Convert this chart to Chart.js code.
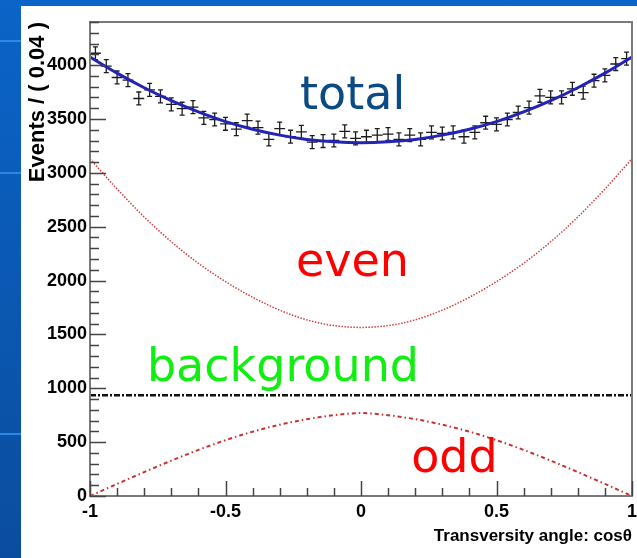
<!DOCTYPE html>
<html>
<head>
<meta charset="utf-8">
<script src="https://cdn.jsdelivr.net/npm/chart.js@4.4.1/dist/chart.umd.min.js"></script>
<style>
  html, body { margin: 0; padding: 0; }
  body { width: 637px; height: 558px; overflow: hidden; position: relative;
         background: linear-gradient(#0b64c8, #0a4d9e); }
  .stripe { position: absolute; left: 0; width: 21px; height: 2px; background: #2f86e6; }
  #panel { position: absolute; left: 21px; top: 6px; width: 616px; height: 552px; background: #fff; }
</style>
</head>
<body>
<div class="stripe" style="top:40px"></div>
<div class="stripe" style="top:172px"></div>
<div class="stripe" style="top:433px"></div>
<div id="panel"><canvas id="fit" width="616" height="552"></canvas></div>
<script>
// bin centres (bin width 0.04) and event counts
const cosBins = [-0.98, -0.94, -0.90, -0.86, -0.82, -0.78, -0.74, -0.70, -0.66, -0.62,
                 -0.58, -0.54, -0.50, -0.46, -0.42, -0.38, -0.34, -0.30, -0.26, -0.22,
                 -0.18, -0.14, -0.10, -0.06, -0.02, 0.02, 0.06, 0.10, 0.14, 0.18,
                 0.22, 0.26, 0.30, 0.34, 0.38, 0.42, 0.46, 0.50, 0.54, 0.58,
                 0.62, 0.66, 0.70, 0.74, 0.78, 0.82, 0.86, 0.90, 0.94, 0.98];
const counts = [4110, 3990, 3885, 3860, 3690, 3770, 3710, 3635, 3595, 3610,
                3510, 3495, 3455, 3405, 3485, 3420, 3310, 3410, 3335, 3380,
                3285, 3295, 3300, 3385, 3320, 3335, 3350, 3360, 3310, 3350,
                3310, 3375, 3365, 3375, 3335, 3375, 3465, 3450, 3495, 3560,
                3605, 3715, 3700, 3700, 3780, 3745, 3855, 3905, 4010, 4060];
const countErr = 60;
const binHalf = 0.02;

// fitted components sampled along cos(theta)
const curveX   = [-1, -0.9, -0.8, -0.7, -0.6, -0.5, -0.4, -0.3, -0.2, -0.1, 0,
                  0.1, 0.2, 0.3, 0.4, 0.5, 0.6, 0.7, 0.8, 0.9, 1];
const totalFit = [4075, 3925, 3790, 3670, 3565, 3475, 3405, 3350, 3310, 3288, 3280,
                  3288, 3310, 3350, 3405, 3475, 3565, 3670, 3790, 3925, 4075];
const evenFit  = [3130, 2850, 2590, 2360, 2160, 1990, 1845, 1725, 1635, 1582, 1565,
                  1582, 1635, 1725, 1845, 1990, 2160, 2360, 2590, 2850, 3130];
const oddFit   = [0, 112, 222, 328, 428, 518, 597, 662, 713, 750, 770,
                  750, 713, 662, 597, 518, 428, 328, 222, 112, 0];
const bkgX     = [-1, 1];
const bkgFit   = [935, 935];

const yTicks = [0, 500, 1000, 1500, 2000, 2500, 3000, 3500, 4000];
const xTicks = [-1, -0.5, 0, 0.5, 1];

const pts = (xs, ys) => xs.map((v, i) => ({x: v, y: ys[i]}));

const rootStyle = {
  id: 'rootStyle',
  beforeDatasetsDraw(chart) {
    const {ctx, scales: {x, y}} = chart;
    ctx.save();
    ctx.strokeStyle = '#1c1c1c';
    ctx.lineWidth = 1.3;
    cosBins.forEach((c, i) => {
      const px = x.getPixelForValue(c), py = y.getPixelForValue(counts[i]);
      const x0 = x.getPixelForValue(c - binHalf), x1 = x.getPixelForValue(c + binHalf);
      const y0 = y.getPixelForValue(counts[i] - countErr), y1 = y.getPixelForValue(counts[i] + countErr);
      ctx.beginPath();
      ctx.moveTo(x0, py); ctx.lineTo(x1, py);
      ctx.moveTo(px, y0); ctx.lineTo(px, y1);
      ctx.moveTo(px - 2.5, y0); ctx.lineTo(px + 2.5, y0);
      ctx.moveTo(px - 2.5, y1); ctx.lineTo(px + 2.5, y1);
      ctx.stroke();
    });
    ctx.restore();
  },
  afterDatasetsDraw(chart) {
    const {ctx, chartArea: a, scales: {x, y}} = chart;
    ctx.save();
    // frame
    ctx.strokeStyle = '#7a7a7a';
    ctx.lineWidth = 2;
    ctx.strokeRect(a.left, a.top, a.right - a.left, a.bottom - a.top);
    // inward ticks
    ctx.strokeStyle = '#444';
    ctx.lineWidth = 1.5;
    ctx.beginPath();
    for (let v = 0; v <= 4400; v += 100) {
      const py = Math.round(y.getPixelForValue(v)) + 0.5;
      ctx.moveTo(a.left, py);
      ctx.lineTo(a.left + (v % 500 === 0 ? 16 : 9), py);
    }
    for (let k = -10; k <= 10; k++) {
      const px = Math.round(x.getPixelForValue(k / 10)) + 0.5;
      ctx.moveTo(px, a.bottom);
      ctx.lineTo(px, a.bottom - (k % 5 === 0 ? 15 : 8));
    }
    ctx.stroke();
    // labels
    ctx.font = '46px "DejaVu Sans"';
    ctx.textBaseline = 'alphabetic';
    ctx.textAlign = 'left';
    [['total', '#0b4a84', -0.225, 3590],
     ['even', '#ff0000', -0.24, 2042],
     ['background', '#11ee11', -0.79, 1067],
     ['odd', '#ff0000', 0.185, 223]].forEach(([t, col, tx, ty]) => {
      ctx.fillStyle = col;
      ctx.fillText(t, x.getPixelForValue(tx), y.getPixelForValue(ty));
    });
    ctx.restore();
  }
};

const tickFont = {family: '"Liberation Sans", Arial, sans-serif', size: 18, weight: 'bold'};

new Chart(document.getElementById('fit'), {
  type: 'scatter',
  data: {
    datasets: [
      {label: 'total', data: pts(curveX, totalFit), showLine: true, borderColor: '#2323b6',
       borderWidth: 3, pointRadius: 0, cubicInterpolationMode: 'monotone'},
      {label: 'background', data: pts(bkgX, bkgFit), showLine: true, borderColor: '#111',
       borderWidth: 2.5, borderDash: [6, 2, 2, 2], pointRadius: 0},
      {label: 'even', data: pts(curveX, evenFit), showLine: true, borderColor: 'rgba(200,30,30,0.85)',
       borderWidth: 1.5, borderDash: [1.5, 1.5], pointRadius: 0, cubicInterpolationMode: 'monotone'},
      {label: 'odd', data: pts(curveX, oddFit), showLine: true, borderColor: '#c83232',
       borderWidth: 2, borderDash: [4, 3, 1.5, 3], pointRadius: 0, cubicInterpolationMode: 'monotone'},
      {label: 'data', data: pts(cosBins, counts), pointRadius: 0}
    ]
  },
  options: {
    responsive: false,
    animation: false,
    devicePixelRatio: 1,
    layout: {padding: {top: 16, right: 5, left: 0, bottom: 0}},
    plugins: {legend: {display: false}, tooltip: {enabled: false}},
    scales: {
      x: {
        type: 'linear', min: -1, max: 1,
        grid: {display: false, drawTicks: false},
        border: {display: false},
        ticks: {color: '#000', font: tickFont, padding: 5, maxRotation: 0,
                autoSkip: false, callback: v => String(v)},
        afterBuildTicks(s) { s.ticks = xTicks.map(v => ({value: v})); },
        title: {display: true, text: 'Transversity angle: cosθ', align: 'end', color: '#000',
                font: {family: '"Liberation Sans", Arial, sans-serif', size: 17, weight: 'bold'},
                padding: {top: 0, bottom: 11}},
        afterFit(s) { s.height = 62; s.paddingLeft = 0; s.paddingRight = 0; }
      },
      y: {
        type: 'linear', min: 0, max: 4400,
        grid: {display: false, drawTicks: false},
        border: {display: false},
        ticks: {color: '#000', font: tickFont, padding: 3, autoSkip: false,
                callback: v => String(v)},
        afterBuildTicks(s) { s.ticks = yTicks.map(v => ({value: v})); },
        title: {display: true, text: 'Events / ( 0.04 )', align: 'end', color: '#000',
                font: {family: '"Liberation Sans", Arial, sans-serif', size: 22, weight: 'bold'},
                padding: {top: 4, bottom: 0}},
        afterFit(s) { s.width = 69; s.paddingTop = 0; s.paddingBottom = 0; }
      }
    }
  },
  plugins: [rootStyle]
});
</script>
</body>
</html>
